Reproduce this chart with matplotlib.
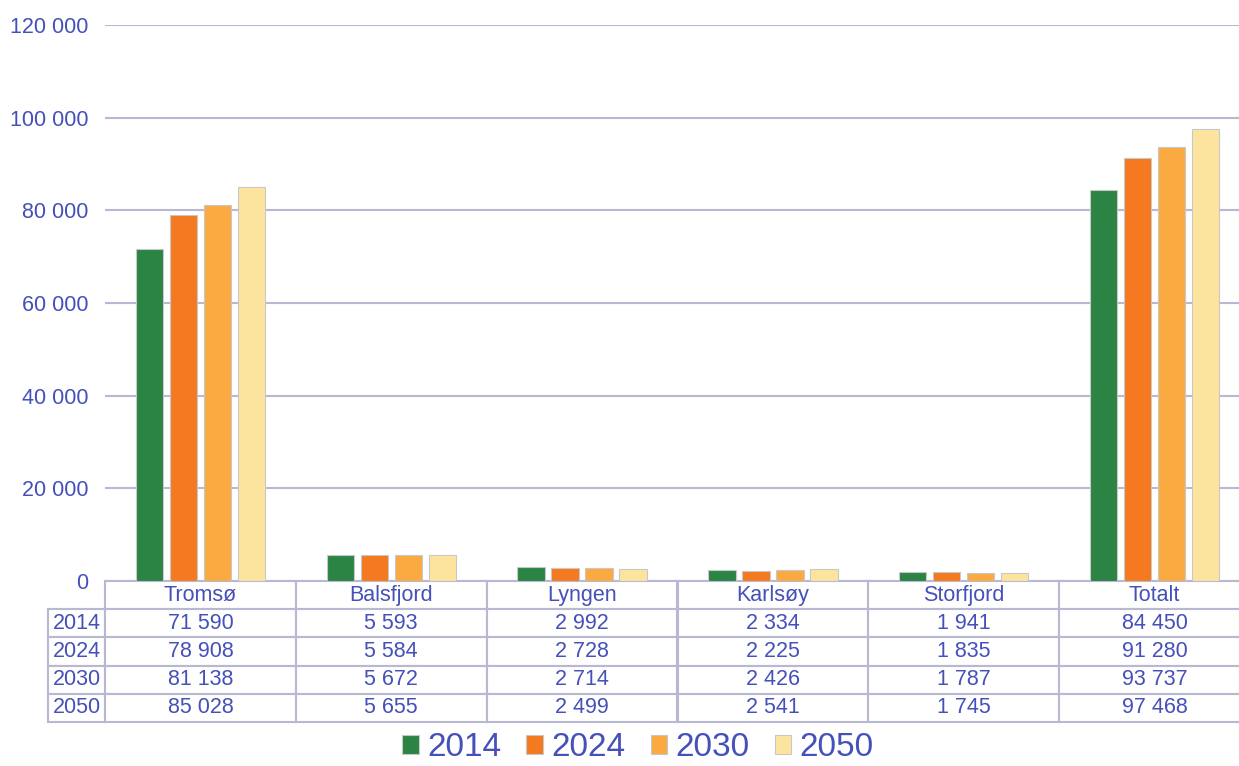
import matplotlib.pyplot as plt
import numpy as np

# data
kommuner = ['Tromsø', 'Balsfjord', 'Lyngen', 'Karlsøy', 'Storfjord', 'Totalt']
years = ['2014', '2024', '2030', '2050']
v2014 = [71590, 5593, 2992, 2334, 1941, 84450]
v2024 = [78908, 5584, 2728, 2225, 1835, 91280]
v2030 = [81138, 5672, 2714, 2426, 1787, 93737]
v2050 = [85028, 5655, 2499, 2541, 1745, 97468]
series = [v2014, v2024, v2030, v2050]

colors = ['#2b8443', '#f47920', '#fbaa42', '#fde49e']
txt = '#4550b8'
grid_c = '#b8b8d2'

W, H = 1239, 766
fig = plt.figure(figsize=(W / 100, H / 100), dpi=100)
ax = fig.add_axes([105 / W, (H - 581) / H, 1145 / W, 556 / H])

x = np.arange(len(kommuner))
step = 0.178
width = 0.143
bars = []
for i, (vals, c) in enumerate(zip(series, colors)):
    b = ax.bar(x + (i - 1.5) * step, vals, width, color=c, edgecolor='#c8c8c8',
               linewidth=0.8, label=years[i], zorder=3)
    bars.append(b)

ax.set_xlim(-0.5, len(kommuner) - 0.5)
ax.set_ylim(0, 120000)
ax.set_yticks(np.arange(0, 120001, 20000))
ax.set_yticklabels([f'{v:,}'.replace(',', ' ') for v in range(0, 120001, 20000)],
                   family='Liberation Sans', fontsize=15.5, color=txt)
ax.tick_params(axis='y', length=0, pad=12)
ax.set_xticks([])
ax.grid(axis='y', color=grid_c, linewidth=1.5, zorder=0)
for s in ax.spines.values():
    s.set_visible(False)

def fmt(v):
    return f'{v:,}'.replace(',', ' ')

# table: first column holds the year labels
cell_text = [[y] + [fmt(v) for v in vals] for y, vals in zip(years, series)]
lab_w = 57 / 1145
col_w = [lab_w] + [1 / len(kommuner)] * len(kommuner)
tab = ax.table(cellText=cell_text, colLabels=[''] + kommuner,
               cellLoc='center', colWidths=col_w,
               bbox=[-lab_w, -141 / 556, 1 + lab_w, 141 / 556])
tab.auto_set_font_size(False)
for (r, c), cell in tab.get_celld().items():
    cell.set_edgecolor(grid_c)
    cell.set_linewidth(1.5)
    cell.get_text().set_color(txt)
    cell.get_text().set_fontsize(15.5)
    cell.get_text().set_family('Liberation Sans')
    if r == 0 and c == 0:
        cell.visible_edges = ''
    if c == 0:
        cell.PAD = 0.04

fig.legend(handles=bars, labels=years, loc='center', bbox_to_anchor=(638 / W, 18 / H),
           ncol=4, frameon=False, labelcolor=txt, borderpad=0.2,
           handlelength=0.5, handleheight=0.5, handletextpad=0.25, columnspacing=0.75,
           prop={'family': 'Liberation Sans', 'size': 24})

plt.savefig('out.png', dpi=100)
